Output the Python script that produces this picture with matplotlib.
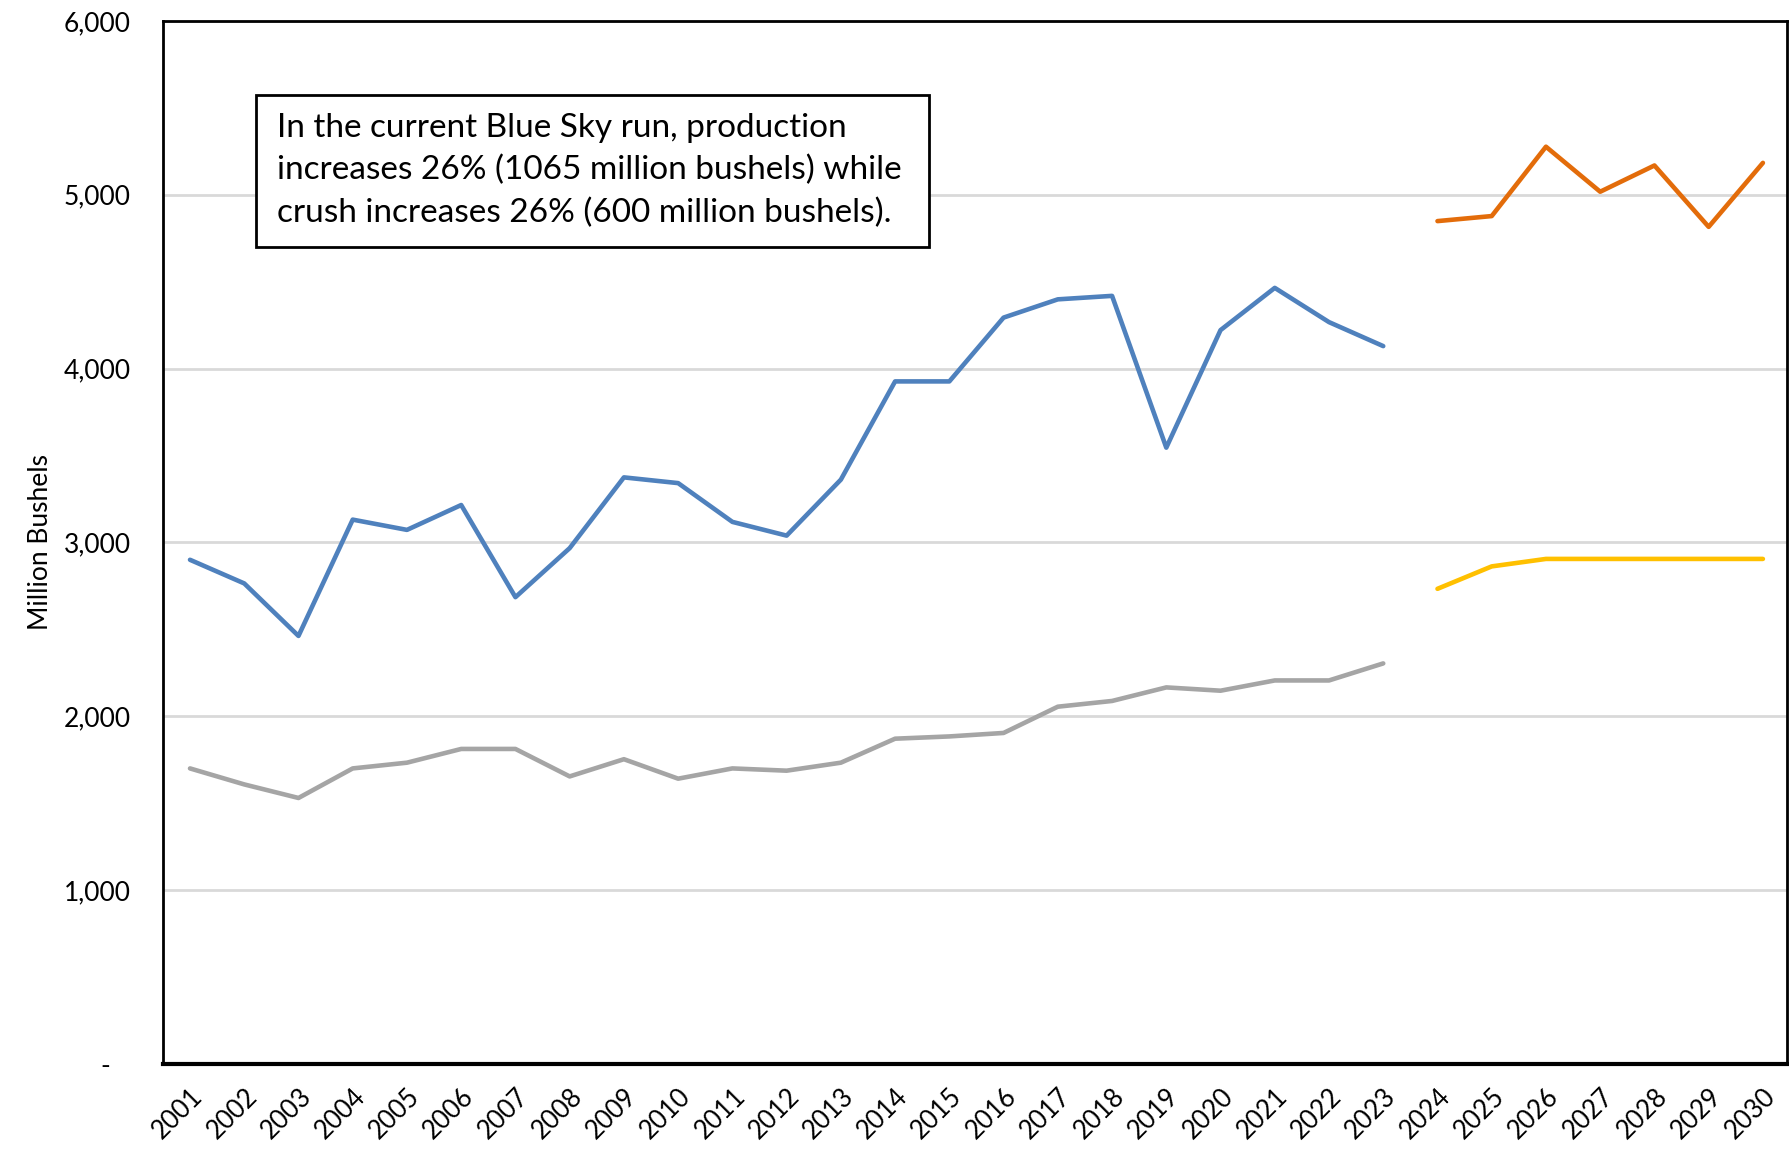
import numpy as np
import matplotlib.pyplot as plt
from matplotlib.patches import Rectangle

plt.rcParams['font.family'] = ['Lato', 'DejaVu Sans']

years = [str(y) for y in range(2001, 2031)]

# history 2001-2023
production = [2900, 2764, 2462, 3131, 3072, 3215, 2685, 2967, 3374, 3341,
              3118, 3039, 3361, 3926, 3926, 4293, 4398, 4418, 3545, 4221,
              4464, 4267, 4129]
crush = [1700, 1608, 1530, 1700, 1733, 1812, 1812, 1654, 1753, 1641,
         1700, 1687, 1733, 1871, 1884, 1904, 2055, 2088, 2166, 2147,
         2206, 2206, 2304]

# Blue Sky run 2024-2030
proj_production = [4848, 4877, 5276, 5017, 5168, 4815, 5183]
proj_crush = [2733, 2862, 2905, 2905, 2905, 2905, 2905]

yticks = [0, 1000, 2000, 3000, 4000, 5000, 6000]
ytick_labels = ['-   ', '1,000', '2,000', '3,000', '4,000', '5,000', '6,000']

note = ("In the current Blue Sky run, production\n"
        "increases 26% (1065 million bushels) while\n"
        "crush increases 26% (600 million bushels).")

fig = plt.figure(figsize=(17.9, 11.57), dpi=100)
ax = fig.add_axes([0.091, 0.0804, 0.9075, 0.9016])

x_hist = np.arange(len(production))
x_proj = np.arange(len(production), len(production) + len(proj_production))

ax.plot(x_hist, production, color='#4F81BD', lw=3.3, solid_capstyle='round', zorder=3)
ax.plot(x_hist, crush, color='#A5A5A5', lw=3.3, solid_capstyle='round', zorder=3)
ax.plot(x_proj, proj_production, color='#E36C0A', lw=3.3, solid_capstyle='round', zorder=3)
ax.plot(x_proj, proj_crush, color='#FFC000', lw=3.3, solid_capstyle='round', zorder=3)

ax.set_xlim(-0.5, len(years) - 0.55)
ax.set_ylim(0, 6000)
ax.set_yticks(yticks)
ax.set_yticklabels(ytick_labels, fontsize=19)
ax.set_xticks(np.arange(len(years)))
ax.set_xticklabels(years, fontsize=18.5, rotation=45, ha='right', rotation_mode='anchor')
ax.tick_params(axis='both', length=0)
ax.tick_params(axis='y', pad=23)
ax.tick_params(axis='x', pad=14)

ax.yaxis.grid(True, color='#D9D9D9', lw=2)
ax.set_axisbelow(True)
for side in ['left', 'right', 'top']:
    ax.spines[side].set_linewidth(2)
ax.spines['bottom'].set_linewidth(3)

ax.set_ylabel('Million Bushels', fontsize=19, labelpad=8)

# note box
ax.add_patch(Rectangle((0.0576, 0.7834), 0.414, 0.1456, transform=ax.transAxes,
                       fc='white', ec='black', lw=2, zorder=5))
ax.text(0.0703, 0.912, note, transform=ax.transAxes, fontsize=24,
        va='top', ha='left', linespacing=1.5, zorder=6)

fig.savefig('out.png', dpi=100)
